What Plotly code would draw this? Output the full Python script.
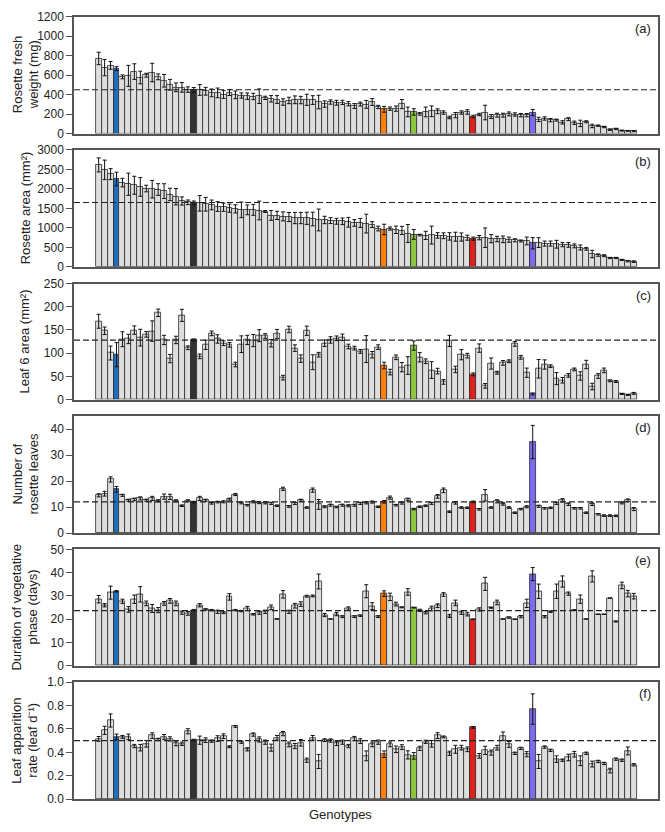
import plotly.graph_objects as go

GENOTYPES = ["G%d" % (i + 1) for i in range(91)]

FRESH_WEIGHT = [772,678,701,667,583,593,637,576,600,627,
583,543,502,475,475,452,448,448,435,418,
418,401,421,398,391,384,381,384,367,357,
350,324,340,347,344,347,344,324,303,324,
317,320,307,283,303,300,324,273,249,256,
256,303,222,222,202,222,229,229,216,165,
189,216,222,175,196,216,175,189,189,202,
196,189,189,216,145,155,138,138,115,148,
111,104,121,78,81,67,40,47,30,27,
24]
FRESH_WEIGHT_ERR = [64,84,40,20,20,108,80,65,20,95,
30,65,55,45,50,28,25,55,40,40,
50,40,30,40,27,33,33,75,17,33,
40,33,33,40,38,57,45,70,33,22,
25,22,22,25,20,40,35,17,30,17,
27,47,50,33,13,50,55,25,17,13,
27,17,23,13,12,75,20,20,20,20,
17,17,17,32,22,17,17,10,17,15,
17,33,10,18,7,7,8,7,5,4,
4]

ROSETTE_AREA = [2613,2487,2378,2252,2160,2118,2092,2050,2008,1991,
1983,1941,1857,1798,1689,1655,1639,1630,1605,1588,
1546,1529,1504,1487,1462,1462,1462,1445,1420,1319,
1319,1294,1277,1252,1252,1244,1227,1202,1202,1185,
1168,1168,1143,1126,1126,1109,1084,983,958,983,
950,933,857,832,815,807,815,807,798,781,
773,765,748,723,748,748,723,714,706,697,
681,664,664,605,622,597,597,580,571,563,
538,496,462,328,302,286,227,227,176,143,
134]
ROSETTE_AREA_ERR = [180,250,140,175,110,285,230,240,85,225,
150,190,160,210,105,60,50,200,175,125,
125,105,105,105,200,125,140,240,25,125,
105,115,115,145,145,155,175,280,95,75,
75,85,125,85,115,240,75,60,135,40,
95,105,230,125,20,105,230,70,75,95,
115,105,65,40,55,250,105,70,85,65,
40,25,100,145,125,65,65,100,55,60,
50,65,35,95,30,25,15,15,15,15,
20]

LEAF6_AREA = [168.8,148.3,100.3,96.7,130,130.6,149.7,133.5,140.5,147.6,
187,128.5,88.3,128.5,181.5,111.6,128.5,93.2,118,142.7,
130.6,121.5,118,75.6,119.3,128.5,127.1,137.7,137,121.5,
141.2,47.3,151.1,110.9,88.3,148.3,80.5,96.7,121.5,128.5,
132.1,134.2,114.4,110.9,103.8,108.8,96.7,113,73.4,59.3,
91.1,69.9,73.4,116.5,91.1,82.6,63.6,61.4,38.1,126.4,
65,96.7,94.6,54.4,110.9,29.7,77.7,57.9,79.1,82.6,
120,91.1,57.9,12,66.4,75.6,72,45.2,41.7,52.3,
65,50.8,75.6,28.2,50.8,62.9,40.3,38.8,12,9.9,
13.4]
LEAF6_AREA_ERR = [15,8,15,26,16,10,9,18,6,22,
8,10,9,8,13,4,2,5,10,5,
9,5,5,5,18,10,13,13,5,8,
10,5,7,7,8,10,16,5,7,7,
5,7,5,4,4,29,7,5,7,6,
5,10,19,10,10,5,18,6,5,12,
7,11,5,3,9,5,12,3,5,3,
5,4,10,2,20,10,3,13,6,4,
3,9,9,7,5,5,2,2,1,1,
2]

LEAF_NUMBER = [14.5,15.1,20.6,16.8,14.5,12.6,12.9,13.3,12.6,13.3,
12.4,14.0,13.9,12.4,10.5,12.4,11.9,13.3,12.6,11.4,
11.9,12.0,13.0,14.8,11.6,10.7,12.0,11.7,11.6,11.4,
10.5,17.0,10.2,11.4,12.6,9.8,16.5,11.0,10.1,10.7,
10.0,10.7,10.5,10.7,11.4,11.6,11.9,10.1,12.0,13.6,
10.7,11.5,12.9,9.2,10.1,10.5,11.4,14.1,16.4,8.2,
11.6,9.8,9.7,12.0,9.1,14.5,9.8,12.2,11.2,9.8,
7.8,9.2,10.1,35.0,10.3,9.5,9.7,11.4,12.6,11.1,
9.5,9.5,7.8,11.1,7.2,6.7,6.7,6.6,11.6,12.6,
9.2]
LEAF_NUMBER_ERR = [0.6,0.9,1.0,1.1,0.4,0.4,0.5,0.6,0.4,0.8,
0.4,1.0,1.0,0.4,0.3,0.4,0.3,0.8,0.4,0.3,
0.3,0.4,0.4,0.4,0.4,0.3,0.4,0.4,0.4,0.4,
0.3,0.6,0.3,0.4,0.4,0.3,0.8,1.9,0.4,0.4,
0.3,0.4,0.4,0.4,0.4,0.4,0.4,0.3,0.5,0.6,
0.3,0.4,0.5,0.3,0.3,0.3,0.4,0.7,0.9,0.3,
0.5,0.3,0.3,0.3,0.3,2.2,0.3,0.6,0.5,0.3,
0.3,0.3,0.4,6.4,0.4,0.3,0.3,0.4,0.6,0.5,
0.3,0.3,0.3,0.5,0.3,0.3,0.3,0.3,0.4,0.5,
0.6]

VEG_DURATION = [28.6,26.0,31.4,32.0,27.7,24.2,28.6,30.7,26.8,24.6,
23.9,26.8,27.9,26.8,22.8,22.5,23.9,26.0,24.2,23.9,
23.2,22.8,29.6,23.9,23.5,24.6,22.1,22.8,23.2,25.1,
20.1,30.7,23.2,25.8,26.5,29.9,30.0,36.2,21.8,20.1,
22.2,21.1,24.6,21.1,21.5,32.0,25.6,21.1,31.0,29.6,
26.5,25.1,31.7,24.9,23.8,22.8,24.6,25.8,30.6,21.4,
27.0,22.8,22.2,20.0,24.2,35.2,24.9,27.2,20.1,20.7,
20.0,21.1,26.8,39.4,32.0,21.1,23.2,32.0,36.2,31.0,
23.9,28.6,20.1,38.4,22.1,22.1,29.1,19.0,34.5,31.0,
29.9]
VEG_DURATION_ERR = [1.6,0.7,2.8,0.3,0.9,1.2,1.8,3.3,1.0,1.7,
1.1,0.8,1.0,1.0,0.7,0.8,0.3,0.7,0.3,0.3,
0.7,0.4,1.4,0.3,0.3,0.9,0.3,0.7,0.7,1.0,
0.0,1.6,0.7,1.0,1.0,0.4,0.4,3.2,0.7,0.0,
0.7,0.4,0.7,0.4,0.3,2.8,1.5,0.4,1.2,1.6,
0.8,0.2,1.4,0.0,0.5,0.5,1.0,0.8,0.8,0.7,
1.2,0.7,0.8,0.0,0.7,2.8,0.2,1.0,0.0,0.3,
0.0,0.5,1.8,2.8,3.1,0.5,0.3,3.1,2.4,0.7,
0.2,1.8,0.0,2.4,0.0,0.0,0.0,0.2,1.4,1.4,
1.2]

LEAF_RATE = [0.515,0.588,0.672,0.532,0.532,0.532,0.454,0.440,0.473,0.543,
0.510,0.532,0.515,0.476,0.473,0.580,0.504,0.504,0.504,0.496,
0.518,0.538,0.448,0.622,0.487,0.426,0.552,0.510,0.487,0.440,
0.524,0.560,0.468,0.454,0.482,0.333,0.524,0.322,0.504,0.501,
0.476,0.487,0.454,0.518,0.496,0.370,0.468,0.487,0.384,0.468,
0.426,0.445,0.378,0.370,0.434,0.490,0.473,0.543,0.532,0.392,
0.426,0.440,0.426,0.613,0.370,0.417,0.398,0.440,0.538,0.468,
0.392,0.434,0.384,0.770,0.322,0.445,0.417,0.342,0.333,0.356,
0.384,0.328,0.392,0.300,0.322,0.305,0.244,0.342,0.333,0.412,
0.294]
LEAF_RATE_ERR = [0.02,0.035,0.056,0.024,0.012,0.024,0.014,0.028,0.028,0.024,
0.01,0.02,0.018,0.02,0.014,0.022,0.008,0.035,0.02,0.01,
0.024,0.02,0.008,0.008,0.01,0.014,0.014,0.022,0.018,0.03,
0.02,0.018,0.02,0.022,0.028,0.018,0.02,0.06,0.012,0.014,
0.018,0.018,0.014,0.018,0.02,0.042,0.02,0.018,0.028,0.02,
0.028,0.02,0.035,0.028,0.018,0.014,0.028,0.025,0.008,0.018,
0.034,0.02,0.02,0.008,0.02,0.035,0.022,0.02,0.036,0.025,
0.01,0.01,0.022,0.13,0.06,0.01,0.01,0.028,0.01,0.028,
0.024,0.042,0.01,0.025,0.01,0.01,0.02,0.01,0.01,0.034,
0.01]

MEANS = [450, 1650, 128, 12, 23.7, 0.5]
PANEL_LABELS = ["(a)", "(b)", "(c)", "(d)", "(e)", "(f)"]
Y_TITLES = [
    ("Rosette fresh", "weight (mg)"),
    ("Rosette area (mm²)",),
    ("Leaf 6 area (mm²)",),
    ("Number of", "rosette leaves"),
    ("Duration of vegetative", "phase (days)"),
    ("Leaf apparition", "rate (leaf d⁻¹)"),
]
Y_RANGES = [(0, 1200), (0, 3000), (0, 250), (0, 45), (0, 50), (0, 1.0)]
Y_DTICK = [200, 500, 50, 10, 10, 0.2]

HIGHLIGHT = {3: "#1d6fc2", 16: "#333333", 48: "#ff7f0e", 53: "#8dc63f",
             63: "#e3201b", 73: "#7b6cf0"}
GREY = "#dedede"

SERIES = [
    (FRESH_WEIGHT, FRESH_WEIGHT_ERR),
    (ROSETTE_AREA, ROSETTE_AREA_ERR),
    (LEAF6_AREA, LEAF6_AREA_ERR),
    (LEAF_NUMBER, LEAF_NUMBER_ERR),
    (VEG_DURATION, VEG_DURATION_ERR),
    (LEAF_RATE, LEAF_RATE_ERR),
]

W, H = 665, 832
ML, MR = 74, 7
PANEL_PX = [(10, 128.7), (145.3, 264.3), (281.3, 399.3), (416, 535), (551.7, 670), (686.7, 805.7)]

colors = [HIGHLIGHT.get(i, GREY) for i in range(len(GENOTYPES))]

fig = go.Figure()
layout = dict(
    width=W, height=H,
    margin=dict(l=ML, r=MR, t=0, b=0),
    paper_bgcolor="white", plot_bgcolor="white",
    showlegend=False, bargap=0,
    font=dict(family="Liberation Sans, Arial, sans-serif", color="#222", size=12),
)
annotations = []
shapes = []
pw = W - ML - MR
for k, ((vals, errs), (top, bot)) in enumerate(zip(SERIES, PANEL_PX)):
    n = k + 1
    xa = "x" if n == 1 else "x%d" % n
    ya = "y" if n == 1 else "y%d" % n
    fig.add_trace(go.Bar(
        x=GENOTYPES, y=vals, xaxis=xa, yaxis=ya,
        marker=dict(color=colors, line=dict(color="#2a2a2a", width=0.8)),
        error_y=dict(type="data", array=errs, visible=True, color="#111",
                     thickness=1, width=2),
    ))
    dom = [1 - bot / H, 1 - top / H]
    layout["xaxis" if n == 1 else "xaxis%d" % n] = dict(
        domain=[0, 1], anchor=ya, type="category",
        range=[-4.15, 94.07], showticklabels=False, ticks="",
        showline=True, mirror=True, linecolor="#555", linewidth=1.5,
        showgrid=False, zeroline=False,
    )
    layout["yaxis" if n == 1 else "yaxis%d" % n] = dict(
        domain=dom, anchor=xa, range=list(Y_RANGES[k]), dtick=Y_DTICK[k],
        tick0=0, ticks="outside", ticklen=6, tickcolor="#555", tickwidth=1,
        showline=True, mirror=True, linecolor="#555", linewidth=1.5,
        showgrid=False, zeroline=False,
        tickfont=dict(size=12, color="#222"),
        tickformat=".1f" if k == 5 else "d",
    )
    shapes.append(dict(type="line", xref="%s domain" % xa, yref=ya,
                       x0=0, x1=1, y0=MEANS[k], y1=MEANS[k],
                       line=dict(color="#222", width=1.2, dash="6px,3px")))
    annotations.append(dict(text=PANEL_LABELS[k], xref="paper", yref="paper",
                            x=(653 - ML) / pw, y=1 - (top + 2) / H,
                            xanchor="right", yanchor="top", showarrow=False,
                            font=dict(size=13, color="#222")))
    yc = 1 - (top + bot) / 2 / H
    lines = Y_TITLES[k]
    if len(lines) == 2:
        xs = [17, 33]
    else:
        xs = [25]
    for line, px in zip(lines, xs):
        annotations.append(dict(text=line, xref="paper", yref="paper",
                                x=(px - ML) / pw, y=yc, textangle=-90,
                                xanchor="center", yanchor="middle", showarrow=False,
                                font=dict(size=13, color="#222")))

annotations.append(dict(text="Genotypes", xref="paper", yref="paper",
                        x=(340 - ML) / pw, y=1 - 821 / H, xanchor="center",
                        yanchor="middle", showarrow=False,
                        font=dict(size=13, color="#222")))
layout["annotations"] = annotations
layout["shapes"] = shapes
fig.update_layout(**layout)
fig.write_html("out.html")
